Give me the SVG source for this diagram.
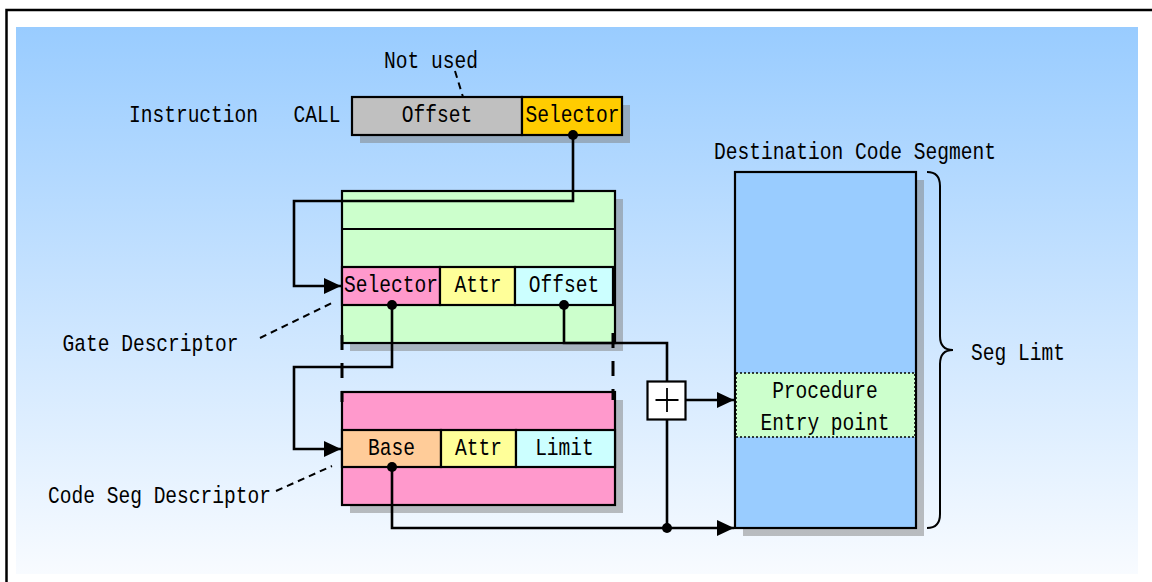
<svg xmlns="http://www.w3.org/2000/svg" width="1152" height="582" viewBox="0 0 1152 582">
<defs>
<linearGradient id="bg" x1="0" y1="0" x2="0" y2="1">
<stop offset="0" stop-color="#99CCFF"/>
<stop offset="1" stop-color="#F8FBFF"/>
</linearGradient>
<marker id="arr" markerWidth="18" markerHeight="16" refX="17" refY="8" orient="auto" markerUnits="userSpaceOnUse" overflow="visible">
<path d="M0,0 L17,8 L0,16 Z" fill="#000"/>
</marker>
</defs>
<style>
.t{font-family:"Liberation Mono","DejaVu Sans Mono",monospace;font-size:24px;fill:#000;text-anchor:middle}
.box{stroke:#000;stroke-width:2.2}
.sh{fill:#808080;fill-opacity:0.5}
.ln{fill:none;stroke:#000;stroke-width:2.6}
.dl{fill:none;stroke:#000;stroke-width:2;stroke-dasharray:7 5}
.dv{fill:none;stroke:#000;stroke-width:3;stroke-dasharray:15 13}
.dot{fill:#000}
</style>
<g id="frame">
<rect x="6.5" y="10" width="1200" height="620" fill="#FFFFFF" stroke="#000" stroke-width="2.5"/>
<rect x="16" y="27" width="1122" height="547" fill="url(#bg)"/>
</g>
<g id="instruction">
<text class="t" x="193.5" y="122" textLength="129" lengthAdjust="spacingAndGlyphs">Instruction</text>
<text class="t" x="317" y="122" textLength="47" lengthAdjust="spacingAndGlyphs">CALL</text>
<rect class="sh" x="360" y="105" width="270" height="38"/>
<rect class="box" x="352" y="97" width="170" height="38" fill="#C0C0C0"/>
<rect class="box" x="522" y="97" width="100" height="38" fill="#FFCC00"/>
<text class="t" x="437" y="122" textLength="70.5" lengthAdjust="spacingAndGlyphs">Offset</text>
<text class="t" x="572.5" y="122" textLength="94" lengthAdjust="spacingAndGlyphs">Selector</text>
</g>
<g id="not-used">
<text class="t" x="431" y="68" textLength="94" lengthAdjust="spacingAndGlyphs">Not used</text>
<line class="dl" x1="455" y1="71" x2="463" y2="97"/>
</g>
<g id="gate-descriptor">
<rect class="sh" x="350" y="199" width="273" height="152"/>
<rect class="box" x="342" y="191" width="273" height="152" fill="#CCFFCC"/>
<line class="box" x1="342" y1="229" x2="615" y2="229"/>
<rect class="box" x="342" y="267" width="98" height="38" fill="#FF99CC"/>
<rect class="box" x="440" y="267" width="75" height="38" fill="#FFFF99"/>
<rect class="box" x="515" y="267" width="98" height="38" fill="#CCFFFF"/>
<text class="t" x="391" y="292" textLength="94" lengthAdjust="spacingAndGlyphs">Selector</text>
<text class="t" x="478" y="292" textLength="47" lengthAdjust="spacingAndGlyphs">Attr</text>
<text class="t" x="564" y="292" textLength="70.5" lengthAdjust="spacingAndGlyphs">Offset</text>
</g>
<g id="gate-label">
<text class="t" x="150.5" y="351" textLength="176" lengthAdjust="spacingAndGlyphs">Gate Descriptor</text>
<line class="dl" x1="260" y1="338" x2="332" y2="303"/>
</g>
<g id="code-seg-descriptor">
<rect class="sh" x="350" y="400" width="273" height="113"/>
<rect class="box" x="342" y="392" width="273" height="113" fill="#FF99CC"/>
<rect class="box" x="342" y="430" width="99" height="37" fill="#FFCC99"/>
<rect class="box" x="441" y="430" width="75" height="37" fill="#FFFF99"/>
<rect class="box" x="516" y="430" width="99" height="37" fill="#CCFFFF"/>
<text class="t" x="391.5" y="455" textLength="47" lengthAdjust="spacingAndGlyphs">Base</text>
<text class="t" x="478.5" y="455" textLength="47" lengthAdjust="spacingAndGlyphs">Attr</text>
<text class="t" x="564.5" y="455" textLength="58.75" lengthAdjust="spacingAndGlyphs">Limit</text>
</g>
<g id="code-seg-label">
<text class="t" x="159.5" y="503" textLength="223" lengthAdjust="spacingAndGlyphs">Code Seg Descriptor</text>
<line class="dl" x1="276" y1="491" x2="332" y2="466"/>
</g>
<g id="destination-segment">
<text class="t" x="855" y="159" textLength="282" lengthAdjust="spacingAndGlyphs">Destination Code Segment</text>
<rect class="sh" x="743" y="180" width="181" height="356"/>
<rect class="box" x="735" y="172" width="181" height="356" fill="#99CCFF"/>
<rect x="736" y="373" width="179" height="64" fill="#CCFFCC" stroke="#000" stroke-width="1.5" stroke-dasharray="2 2"/>
<text class="t" x="825" y="398" textLength="105.75" lengthAdjust="spacingAndGlyphs">Procedure</text>
<text class="t" x="825" y="430" textLength="129" lengthAdjust="spacingAndGlyphs">Entry point</text>
</g>
<g id="seg-limit">
<path d="M927,172 Q940,172 940,186 L940,336 Q940,350 953,350 Q940,350 940,364 L940,514 Q940,528 927,528" fill="none" stroke="#000" stroke-width="2"/>
<text class="t" x="1018" y="360" textLength="94" lengthAdjust="spacingAndGlyphs">Seg Limt</text>
</g>
<g id="adder">
<rect class="box" x="647.5" y="381.5" width="38" height="38" fill="#FFFFFF"/>
<path d="M655.5,400 H678.5 M667,388 V412" stroke="#000" stroke-width="1.8" fill="none"/>
</g>
<g id="connectors">
<polyline class="ln" points="573,134 573,201 294,201 294,286 341,286" marker-end="url(#arr)"/>
<polyline class="ln" points="392,305 392,367 294,367 294,449 341,449" marker-end="url(#arr)"/>
<polyline class="ln" points="564,305 564,343 667,343 667,381.5"/>
<line class="ln" x1="667" y1="419.5" x2="667" y2="528"/>
<polyline class="ln" points="392,467 392,528 734,528" marker-end="url(#arr)"/>
<line class="ln" x1="685.5" y1="400" x2="734" y2="400" marker-end="url(#arr)"/>
<line class="dv" x1="342" y1="335" x2="342" y2="402"/>
<line class="dv" x1="613" y1="333" x2="613" y2="400"/>
<circle class="dot" cx="573" cy="135" r="5"/>
<circle class="dot" cx="392" cy="305" r="5"/>
<circle class="dot" cx="564" cy="305" r="5"/>
<circle class="dot" cx="392" cy="467" r="5"/>
<circle class="dot" cx="667" cy="528" r="5"/>
</g>
</svg>
